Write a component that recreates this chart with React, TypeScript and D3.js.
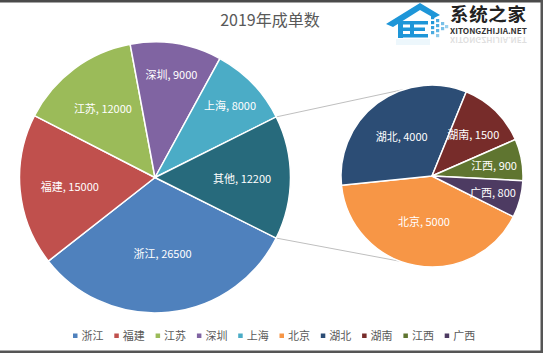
import React from 'react';
import * as d3 from 'd3';

const title = '2019年成单数';
const mainNames = ['浙江', '福建', '江苏', '深圳', '上海'];
const mainValues = [26500, 15000, 12000, 9000, 8000];
const mainColors = ['#4F81BD', '#C0504D', '#9BBB59', '#8064A2', '#4BACC6'];
const otherName = '其他';
const otherColor = '#276A7C';
const subNames = ['北京', '湖北', '湖南', '江西', '广西'];
const subValues = [5000, 4000, 1500, 900, 800];
const subColors = ['#F79646', '#2C4D75', '#772C2A', '#5F7530', '#4D3B62'];

const W = 543;
const H = 353;
const FONT = '"Noto Sans CJK SC", "Noto Sans", sans-serif';
const LABEL_SIZE = 11;

type Item = { name: string; value: number; color: string };

function textWidth(s: string, size: number) {
  let w = 0;
  for (const ch of s) {
    if (/[0-9]/.test(ch)) w += 0.555 * size;
    else if (ch === ',') w += 0.26 * size;
    else if (ch === ' ') w += 0.22 * size;
    else w += size;
  }
  return w;
}

function labelDist(span: number, mid: number, r: number, label: string) {
  const base = span < 0.75 ? 0.77 : (4 * Math.sin(span / 2)) / (3 * span);
  let d = base * r;
  const hw = textWidth(label, LABEL_SIZE) / 2;
  const hh = 6;
  const limit = r - 4;
  const fits = (dd: number) => {
    const x = dd * Math.sin(mid);
    const y = -dd * Math.cos(mid);
    for (const sx of [-1, 1]) for (const sy of [-1, 1]) {
      const cx = x + sx * hw;
      const cy = y + sy * hh;
      if (Math.hypot(cx, cy) > limit) return false;
    }
    return true;
  };
  while (d > 0 && !fits(d)) d -= 0.5;
  return d;
}

function PieGroup({ items, cx, cy, r, start }: { items: Item[]; cx: number; cy: number; r: number; start: number }) {
  const pie = d3
    .pie<Item>()
    .value((d) => d.value)
    .sort(null)
    .startAngle(start)
    .endAngle(start + 2 * Math.PI);
  const arcs = pie(items);
  const arc = d3.arc<d3.PieArcDatum<Item>>().innerRadius(0).outerRadius(r);
  return (
    <g transform={`translate(${cx},${cy})`}>
      {arcs.map((a, i) => (
        <path key={i} d={arc(a) || ''} fill={a.data.color} stroke="#fff" strokeWidth={1.5} strokeLinejoin="round" />
      ))}
      {arcs.map((a, i) => {
        const span = a.endAngle - a.startAngle;
        const mid = (a.startAngle + a.endAngle) / 2;
        const label = `${a.data.name}, ${a.data.value}`;
        const d = labelDist(span, mid, r, label);
        const x = d * Math.sin(mid);
        const y = -d * Math.cos(mid);
        return (
          <text key={'t' + i} x={x} y={y} textAnchor="middle" dominantBaseline="central" fill="#fff" fontSize={LABEL_SIZE} fontFamily={FONT}>
            {label}
          </text>
        );
      })}
    </g>
  );
}

function Logo() {
  const blue = '#1E96D8';
  const squares: [number, number, number][] = [
    [431, 16, 1], [436, 19, 0.8], [441, 22, 0.6], [431, 21, 1], [436, 24, 0.8],
    [441, 27, 0.6], [431, 26, 0.9], [436, 29, 0.7], [445, 25, 0.45], [431, 31, 0.8], [436, 34, 0.5],
  ];
  return (
    <g>
      <polygon points="386,24 420,3 440,15 434,18 420,10 393,27" fill={blue} />
      <rect x={398} y={21} width={5} height={17} fill={blue} />
      <rect x={398} y={21} width={30} height={3.5} fill={blue} />
      <rect x={403} y={27.5} width={22} height={3.5} fill={blue} />
      <rect x={398} y={34} width={30} height={3.5} fill={blue} />
      <rect x={410} y={21} width={4} height={16} fill={blue} />
      {squares.map(([x, y, o], i) => (
        <rect key={i} x={x} y={y} width={3.2} height={3.2} fill={blue} opacity={o} />
      ))}
      <rect x={396} y={39} width={34} height={6} fill={blue} opacity={0.08} />
      <text x={450} y={21} fontSize={18.5} fontWeight={700} fill="#222" fontFamily={FONT} textLength={76}>
        系统之家
      </text>
      <text x={450} y={34} fontSize={7.5} fontWeight={700} fill="#333" fontFamily={FONT} textLength={77} lengthAdjust="spacingAndGlyphs">
        XITONGZHIJIA.NET
      </text>
      <g transform="translate(0,71) scale(1,-1)" opacity={0.15}>
        <text x={450} y={34} fontSize={7.5} fontWeight={700} fill="#333" fontFamily={FONT} textLength={77} lengthAdjust="spacingAndGlyphs">
          XITONGZHIJIA.NET
        </text>
      </g>
    </g>
  );
}

export default function App() {
  const mainItems: Item[] = mainNames.map((n, i) => ({ name: n, value: mainValues[i], color: mainColors[i] }));
  const otherValue = d3.sum(subValues);
  mainItems.push({ name: otherName, value: otherValue, color: otherColor });
  const subItems: Item[] = subNames.map((n, i) => ({ name: n, value: subValues[i], color: subColors[i] }));

  const mainTotal = d3.sum(mainItems, (d) => d.value);
  const otherSpan = (2 * Math.PI * otherValue) / mainTotal;
  const start = Math.PI / 2 + otherSpan / 2;

  const mcx = 155, mcy = 177.5, mr = 135.5;
  const scx = 432, scy = 176, sr = 91;

  const p1 = [mcx + mr * Math.sin(Math.PI / 2 - otherSpan / 2), mcy - mr * Math.cos(Math.PI / 2 - otherSpan / 2)];
  const p2 = [mcx + mr * Math.sin(start), mcy - mr * Math.cos(start)];
  const off = (18 * Math.PI) / 180;
  const q1 = [scx - sr * Math.sin(off), scy - sr * Math.cos(off)];
  const q2 = [scx - sr * Math.sin(off + 0.04), scy + sr * Math.cos(off + 0.04)];

  const legendItems = [...mainItems.slice(0, mainNames.length), ...subItems];
  const lx = d3.scaleLinear().domain([0, 1]).range([73, 73 + 41.3]);

  return (
    <svg width={W} height={H} style={{ position: 'absolute', left: 0, top: 0, background: '#fff' }}>
      <rect x={0} y={0} width={W} height={H} fill="#fff" />
      <text x={270} y={25.5} textAnchor="middle" fontSize={16} fill="#595959" fontFamily={FONT}>
        {title}
      </text>
      <Logo />
      <line x1={p1[0]} y1={p1[1]} x2={q1[0]} y2={q1[1]} stroke="#BFBFBF" strokeWidth={1} />
      <line x1={p2[0]} y1={p2[1]} x2={q2[0]} y2={q2[1]} stroke="#BFBFBF" strokeWidth={1} />
      <PieGroup items={mainItems} cx={mcx} cy={mcy} r={mr} start={start} />
      <PieGroup items={subItems} cx={scx} cy={scy} r={sr} start={start} />
      {legendItems.map((d, i) => (
        <g key={i} transform={`translate(${lx(i)},0)`}>
          <rect x={0} y={333.5} width={4.5} height={4.5} fill={d.color} />
          <text x={8.5} y={340} fontSize={11} fill="#595959" fontFamily={FONT}>
            {d.name}
          </text>
        </g>
      ))}
      <rect x={0} y={0} width={W} height={2.5} fill="#4a4a4a" />
      <rect x={W - 2.5} y={0} width={2.5} height={H} fill="#555" />
      <rect x={0} y={H - 2.5} width={W} height={2.5} fill="#555" />
    </svg>
  );
}
